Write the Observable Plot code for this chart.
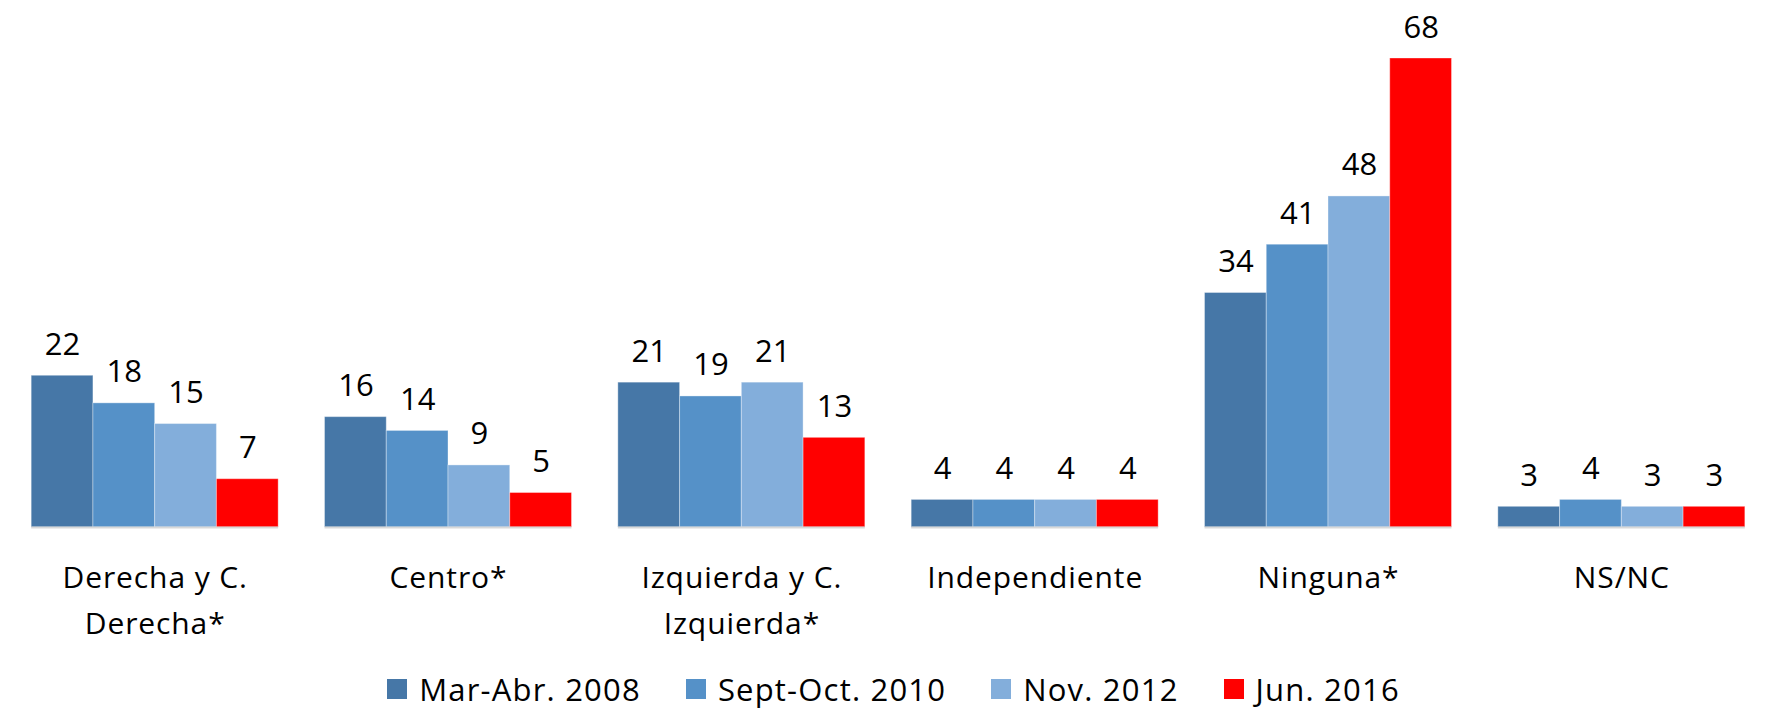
<!DOCTYPE html>
<html>
<head>
<meta charset="utf-8">
<script src="https://cdn.jsdelivr.net/npm/d3@7"></script>
<script src="https://cdn.jsdelivr.net/npm/@observablehq/plot@0.6"></script>
<style>
  html, body { margin: 0; padding: 0; background: #fff; }
  body { width: 1768px; height: 714px; overflow: hidden; font-family: "Open Sans", sans-serif; }
  #legend { display: flex; justify-content: center; align-items: center; height: 64px; padding-top: 7px; font-size: 31px; letter-spacing: 1.2px; color: #000; margin-left: 19px; }
  .item { display: flex; align-items: center; margin: 0 22.5px; }
  .sw { width: 20px; height: 20px; margin-right: 12px; flex: none; }
  svg [aria-label="fx-axis tick label"] text { letter-spacing: 0.9px; }
</style>
</head>
<body>
<div id="chart"></div>
<div id="legend"></div>
<script>
const categories = ["Derecha y C. Derecha*", "Centro*", "Izquierda y C. Izquierda*", "Independiente", "Ninguna*", "NS/NC"];
const tickLabels = ["Derecha y C.\nDerecha*", "Centro*", "Izquierda y C.\nIzquierda*", "Independiente", "Ninguna*", "NS/NC"];
const series = ["Mar-Abr. 2008", "Sept-Oct. 2010", "Nov. 2012", "Jun. 2016"];
const colors = ["#4677a7", "#5591c8", "#83aedb", "#ff0000"];
const v2008 = [22, 16, 21, 4, 34, 3];
const v2010 = [18, 14, 19, 4, 41, 4];
const v2012 = [15, 9, 21, 4, 48, 3];
const v2016 = [7, 5, 13, 4, 68, 3];
const valuesBySeries = [v2008, v2010, v2012, v2016];

const data = [];
categories.forEach((c, i) => {
  series.forEach((s, j) => data.push({category: c, series: s, value: valuesBySeries[j][i]}));
});
const labelOf = new Map(categories.map((c, i) => [c, tickLabels[i]]));

const marks = [
  Plot.barY(data, {fx: "category", x: "series", y: "value", fill: "series", stroke: "#ffffff", strokeOpacity: 0.35, strokeWidth: 1}),
  Plot.text(data, {fx: "category", x: "series", y: "value", text: d => String(d.value), lineAnchor: "bottom", dy: -21, fontSize: 31, fill: "#000"}),
  Plot.axisFx({anchor: "bottom", tickSize: 0, tickPadding: 28, fontSize: 30, lineHeight: 1.53, tickFormat: c => labelOf.get(c), label: null, fill: "#000"})
];

function build(withSuper) {
  const m = marks.slice();
  if (withSuper) m.unshift(Plot.ruleY([0], {facet: "super", stroke: "#d9d9d9", strokeWidth: 2}));
  else m.push(Plot.ruleY([0], {stroke: "#d9d9d9", strokeWidth: 2}));
  return Plot.plot({
    width: 1768,
    height: 650,
    marginTop: 58,
    marginBottom: 123,
    marginLeft: 8,
    marginRight: 0,
    style: {fontFamily: "Open Sans, sans-serif", background: "#fff", overflow: "visible"},
    fx: {domain: categories, paddingInner: 0.158, paddingOuter: 0.079, round: false, label: null},
    x: {domain: series, padding: 0, round: false, axis: null},
    y: {domain: [0, 68], axis: null},
    color: {domain: series, range: colors},
    marks: m
  });
}
let chart;
try { chart = build(true); } catch (e) { chart = build(false); }
document.getElementById("chart").appendChild(chart);

const legend = document.getElementById("legend");
series.forEach((s, i) => {
  const item = document.createElement("div");
  item.className = "item";
  const sw = document.createElement("span");
  sw.className = "sw";
  sw.style.background = colors[i];
  const t = document.createElement("span");
  t.textContent = s;
  item.appendChild(sw);
  item.appendChild(t);
  legend.appendChild(item);
});
</script>
</body>
</html>
